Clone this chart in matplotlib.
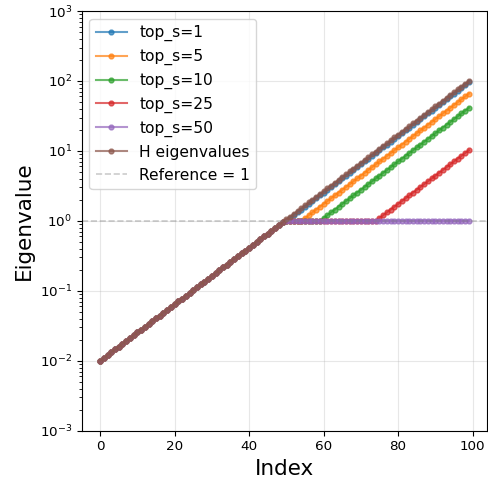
#!/usr/bin/env python3

import matplotlib

matplotlib.use("Agg")
import matplotlib.pyplot as plt


# eigenvalues of H, index 0..99 (log-spaced 1e-2 .. 1e2)
h_eigs = [
    0.0100, 0.010975, 0.012045, 0.013220, 0.014508, 0.015923, 0.017475, 0.019179, 0.021049, 0.023101,
    0.025354, 0.027826, 0.030539, 0.033516, 0.036784, 0.040370, 0.044307, 0.048627, 0.053368, 0.058571,
    0.064281, 0.070549, 0.077427, 0.084977, 0.093262, 0.10235, 0.11233, 0.12328, 0.13530, 0.14850,
    0.16297, 0.17886, 0.19630, 0.21544, 0.23645, 0.25950, 0.28480, 0.31257, 0.34305, 0.37649,
    0.41320, 0.45349, 0.49770, 0.54623, 0.59949, 0.65793, 0.72208, 0.79248, 0.86975, 0.95455,
    1.0476, 1.1498, 1.2619, 1.3849, 1.5199, 1.6681, 1.8307, 2.0092, 2.2051, 2.4201,
    2.6561, 2.9151, 3.1993, 3.5112, 3.8535, 4.2293, 4.6416, 5.0942, 5.5908, 6.1359,
    6.7342, 7.3908, 8.1114, 8.9022, 9.7702, 10.723, 11.768, 12.916, 14.175, 15.557,
    17.074, 18.738, 20.565, 22.570, 24.771, 27.186, 29.837, 32.746, 35.938, 39.442,
    43.288, 47.508, 52.140, 57.224, 62.803, 68.927, 75.647, 83.022, 91.117, 100.0,
]

# preconditioned spectra: below index 50 they follow H, from 50 on (tails below)
top1_tail = [
    1.0, 1.0975, 1.2045, 1.3220, 1.4508, 1.5923, 1.7475, 1.9179, 2.1049, 2.3101,
    2.5354, 2.7826, 3.0539, 3.3516, 3.6784, 4.0370, 4.4307, 4.8627, 5.3368, 5.8571,
    6.4281, 7.0549, 7.7427, 8.4977, 9.3262, 10.235, 11.233, 12.328, 13.530, 14.850,
    16.297, 17.886, 19.630, 21.544, 23.645, 25.950, 28.480, 31.257, 34.305, 37.649,
    41.320, 45.349, 49.770, 54.623, 59.949, 65.793, 72.208, 79.248, 86.975, 95.455,
]
top5_tail = [
    1.0, 1.0, 1.0, 1.0, 1.0, 1.0975, 1.2045, 1.3220, 1.4508, 1.5923,
    1.7475, 1.9179, 2.1049, 2.3101, 2.5354, 2.7826, 3.0539, 3.3516, 3.6784, 4.0370,
    4.4307, 4.8627, 5.3368, 5.8571, 6.4281, 7.0549, 7.7427, 8.4977, 9.3262, 10.235,
    11.233, 12.328, 13.530, 14.850, 16.297, 17.886, 19.630, 21.544, 23.645, 25.950,
    28.480, 31.257, 34.305, 37.649, 41.320, 45.349, 49.770, 54.623, 59.949, 65.793,
]
top10_tail = [
    1.0, 1.0, 1.0, 1.0, 1.0, 1.0, 1.0, 1.0, 1.0, 1.0,
    1.0975, 1.2045, 1.3220, 1.4508, 1.5923, 1.7475, 1.9179, 2.1049, 2.3101, 2.5354,
    2.7826, 3.0539, 3.3516, 3.6784, 4.0370, 4.4307, 4.8627, 5.3368, 5.8571, 6.4281,
    7.0549, 7.7427, 8.4977, 9.3262, 10.235, 11.233, 12.328, 13.530, 14.850, 16.297,
    17.886, 19.630, 21.544, 23.645, 25.950, 28.480, 31.257, 34.305, 37.649, 41.320,
]
top25_tail = [
    1.0, 1.0, 1.0, 1.0, 1.0, 1.0, 1.0, 1.0, 1.0, 1.0,
    1.0, 1.0, 1.0, 1.0, 1.0, 1.0, 1.0, 1.0, 1.0, 1.0,
    1.0, 1.0, 1.0, 1.0, 1.0, 1.0975, 1.2045, 1.3220, 1.4508, 1.5923,
    1.7475, 1.9179, 2.1049, 2.3101, 2.5354, 2.7826, 3.0539, 3.3516, 3.6784, 4.0370,
    4.4307, 4.8627, 5.3368, 5.8571, 6.4281, 7.0549, 7.7427, 8.4977, 9.3262, 10.235,
]
top50_tail = [
    1.0, 1.0, 1.0, 1.0, 1.0, 1.0, 1.0, 1.0, 1.0, 1.0,
    1.0, 1.0, 1.0, 1.0, 1.0, 1.0, 1.0, 1.0, 1.0, 1.0,
    1.0, 1.0, 1.0, 1.0, 1.0, 1.0, 1.0, 1.0, 1.0, 1.0,
    1.0, 1.0, 1.0, 1.0, 1.0, 1.0, 1.0, 1.0, 1.0, 1.0,
    1.0, 1.0, 1.0, 1.0, 1.0, 1.0, 1.0, 1.0, 1.0, 1.0,
]

top_s_values = [1, 5, 10, 25, 50]
tails = [top1_tail, top5_tail, top10_tail, top25_tail, top50_tail]
index = list(range(len(h_eigs)))


def main():
    fig = plt.figure(figsize=(4.88, 4.82), dpi=100)
    ax = fig.add_axes([81.7 / 488, 51.3 / 482, 405.6 / 488, 419.7 / 482])

    for s, tail in zip(top_s_values, tails):
        ax.plot(index, h_eigs[:50] + tail, marker="o", markersize=3.5,
                linewidth=1.5, alpha=0.7, label=f"top_s={s}")
    ax.plot(index, h_eigs, marker="o", markersize=3.5, linewidth=1.5,
            alpha=0.7, label="H eigenvalues")
    ax.axhline(1.0, color="gray", linestyle="--", alpha=0.4, linewidth=1.2,
               label="Reference = 1")

    ax.set_yscale("log")
    ax.set_ylim(1e-3, 1e3)
    ax.set_xlabel("Index", fontsize=15.5)
    ax.set_ylabel("Eigenvalue", fontsize=15.5)
    ax.tick_params(labelsize=9.7)
    ax.xaxis.offsetText.set_visible(False)
    ax.yaxis.offsetText.set_visible(False)
    ax.grid(True, alpha=0.3)
    ax.legend(loc="upper left", fontsize=11.2)

    fig.savefig("out.png", dpi=100)


if __name__ == "__main__":
    main()
